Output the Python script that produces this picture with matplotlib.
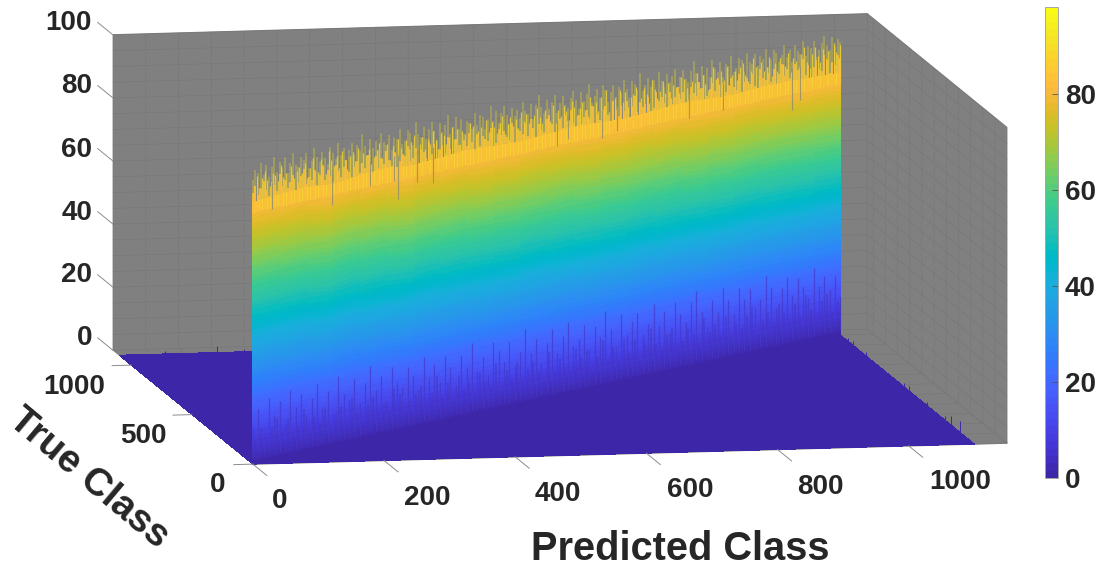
import numpy as np
import matplotlib
matplotlib.use("Agg")
import matplotlib.pyplot as plt
from matplotlib.colors import ListedColormap, Normalize
from matplotlib.cm import ScalarMappable
from mpl_toolkits.mplot3d.art3d import Line3DCollection

plt.rcParams['font.family'] = ['Liberation Sans', 'DejaVu Sans']

# parula, 64 steps
parula = ListedColormap([
    [0.2422, 0.1504, 0.6603], [0.2504, 0.1650, 0.7076], [0.2578, 0.1818, 0.7511], [0.2647, 0.1978, 0.7952],
    [0.2706, 0.2147, 0.8364], [0.2751, 0.2342, 0.8710], [0.2783, 0.2559, 0.8991], [0.2803, 0.2782, 0.9221],
    [0.2813, 0.3006, 0.9414], [0.2810, 0.3228, 0.9579], [0.2795, 0.3447, 0.9717], [0.2760, 0.3667, 0.9829],
    [0.2699, 0.3892, 0.9906], [0.2602, 0.4123, 0.9952], [0.2440, 0.4358, 0.9988], [0.2206, 0.4603, 0.9973],
    [0.1963, 0.4847, 0.9892], [0.1834, 0.5074, 0.9798], [0.1786, 0.5289, 0.9682], [0.1764, 0.5499, 0.9520],
    [0.1687, 0.5703, 0.9359], [0.1540, 0.5902, 0.9218], [0.1460, 0.6091, 0.9079], [0.1380, 0.6276, 0.8973],
    [0.1248, 0.6459, 0.8883], [0.1113, 0.6635, 0.8763], [0.0952, 0.6798, 0.8598], [0.0689, 0.6948, 0.8394],
    [0.0297, 0.7082, 0.8163], [0.0036, 0.7203, 0.7917], [0.0067, 0.7312, 0.7660], [0.0433, 0.7411, 0.7394],
    [0.0964, 0.7500, 0.7120], [0.1408, 0.7584, 0.6842], [0.1717, 0.7670, 0.6554], [0.1938, 0.7758, 0.6251],
    [0.2161, 0.7843, 0.5923], [0.2470, 0.7918, 0.5567], [0.2906, 0.7973, 0.5188], [0.3406, 0.8008, 0.4789],
    [0.3909, 0.8029, 0.4354], [0.4456, 0.8024, 0.3909], [0.5044, 0.7993, 0.3480], [0.5616, 0.7942, 0.3045],
    [0.6174, 0.7876, 0.2612], [0.6720, 0.7793, 0.2227], [0.7242, 0.7698, 0.1910], [0.7738, 0.7598, 0.1646],
    [0.8203, 0.7498, 0.1535], [0.8634, 0.7406, 0.1596], [0.9035, 0.7330, 0.1774], [0.9393, 0.7288, 0.2100],
    [0.9728, 0.7298, 0.2394], [0.9956, 0.7434, 0.2371], [0.9970, 0.7659, 0.2199], [0.9952, 0.7893, 0.2028],
    [0.9892, 0.8136, 0.1885], [0.9786, 0.8386, 0.1766], [0.9676, 0.8639, 0.1643], [0.9610, 0.8890, 0.1537],
    [0.9597, 0.9135, 0.1423], [0.9628, 0.9373, 0.1265], [0.9691, 0.9606, 0.1064], [0.9769, 0.9839, 0.0805],
])

# solid part of the diagonal, one value every 50 classes
wall_top = [83, 83.5, 84, 83, 84, 84.5, 83.5, 84, 84.5, 84, 83.5, 84, 84.5, 84, 83.5, 84, 84.5, 84, 83.5, 84, 84, 83.5, 83]

# orange-yellow tops just over the wall, one value every 5 classes
fill_tops = [
    86, 88, 85, 87, 89, 86, 84, 88, 87, 85, 90, 86, 88, 85, 87, 89, 84, 86, 88, 90, 85, 87, 86, 89, 84,
    87, 90, 85, 88, 86, 84, 89, 87, 85, 88, 90, 86, 84, 87, 89, 85, 88, 86, 90, 87, 84, 89, 85, 88, 86,
    90, 87, 85, 89, 84, 86, 88, 87, 90, 85, 86, 89, 84, 88, 87, 85, 90, 86, 89, 84, 87, 88, 85, 90, 86,
    84, 89, 87, 85, 88, 86, 90, 87, 84, 89, 85, 88, 87, 86, 90, 84, 85, 89, 87, 88, 86, 85, 90, 84, 88,
    87, 86, 89, 85, 90, 87, 84, 88, 86, 85, 89, 90, 87, 84, 86, 88, 85, 89, 87, 90, 86, 84, 88, 85, 87,
    89, 86, 90, 84, 87, 85, 88, 89, 86, 84, 90, 87, 85, 88, 86, 89, 84, 87, 90, 85, 88, 86, 87, 89, 84,
    85, 90, 87, 88, 86, 84, 89, 85, 87, 90, 86, 88, 84, 85, 89, 87, 86, 90, 88, 84, 85, 87, 89, 86, 90,
    84, 88, 85, 87, 89, 86, 85, 90, 84, 87, 88, 86, 89, 85, 84, 90, 87, 86, 88, 85, 89, 84, 87, 90, 86,
    88, 85, 84, 89, 87, 86, 90, 85, 88, 84, 87, 89, 86, 85, 90, 88, 84, 87, 86, 89, 85,
]
# bright yellow tops, one value every 5 classes
bright_tops = [
    88, 91, 87, 90, 92, 89, 87, 91, 90, 88, 93, 89, 90, 87, 92, 88, 90, 91, 89, 92, 87, 90, 93, 89, 88,
    92, 90, 87, 94, 91, 89, 92, 88, 93, 90, 87, 91, 92, 89, 93, 88, 91, 90, 92, 87, 89, 91, 93, 88, 90,
    92, 87, 91, 89, 93, 90, 88, 92, 89, 91, 93, 87, 90, 92, 88, 91, 89, 93, 90, 87, 92, 91, 88, 90, 93,
    89, 92, 87, 91, 90, 88, 93, 92, 89, 90, 91, 87, 93, 89, 92, 90, 88, 91, 93, 87, 90, 92, 89, 91, 88,
    93, 90, 92, 89, 87, 91, 93, 90, 88, 92, 90, 88, 93, 87, 91, 89, 92, 90, 87, 93, 91, 88, 90, 92, 89,
    87, 93, 90, 91, 88, 92, 89, 94, 87, 90, 91, 88, 93, 89, 92, 87, 90, 91, 93, 88, 89, 92, 90, 87, 94,
    91, 88, 90, 93, 89, 92, 87, 91, 90, 88, 93, 92, 89, 87, 91, 90, 93, 88, 92, 89, 87, 91, 94, 90, 88,
    92, 89, 93, 87, 90, 91, 88, 92, 93, 89, 87, 90, 94, 91, 88, 92, 89, 90, 93, 87, 91, 88, 92, 90, 89,
    93, 87, 91, 90, 88, 92, 94, 89, 87, 91, 93, 90, 88, 92, 89, 91, 87, 93, 90, 88, 92,
]
# highest reading per column, one value every 5 classes
spike_tops = [
    90, 93, 92, 95, 91, 94, 90, 93, 96, 91, 94, 92, 95, 90, 93, 96, 92, 91, 94, 93, 95, 90, 92, 96, 93,
    91, 94, 92, 90, 95, 93, 91, 96, 92, 94, 90, 93, 95, 91, 94, 92, 97, 93, 90, 95, 92, 94, 91, 96, 93,
    92, 95, 90, 94, 93, 96, 91, 92, 95, 94, 90, 97, 93, 92, 95, 91, 94, 96, 93, 90, 95, 92, 94, 97, 91,
    93, 96, 92, 95, 90, 94, 93, 91, 96, 92, 95, 94, 90, 93, 97, 92, 95, 91, 94, 96, 93, 90, 95, 92, 94,
    91, 96, 93, 92, 95, 90, 94, 97, 93, 91, 95, 92, 94, 96, 90, 93, 95, 92, 91, 94, 96, 93, 90, 95, 92,
    94, 97, 91, 93, 95, 92, 96, 94, 90, 93, 95, 91, 94, 92, 96, 93, 90, 95, 94, 92, 97, 91, 93, 95, 92,
    94, 90, 96, 93, 91, 95, 92, 94, 96, 90, 93, 95, 92, 91, 94, 97, 93, 90, 95, 92, 94, 91, 96, 93, 92,
    95, 90, 94, 93, 96, 91, 92, 95, 94, 90, 96, 93, 92, 95, 91, 94, 93, 96, 90, 92, 95, 94, 91, 93, 96,
    92, 94, 90, 95, 93, 92, 96, 91, 94, 93, 95, 90, 92, 94, 96, 93, 91, 95, 92, 94, 93,
]
# columns that fall short of the rest
dip_classes = [36, 148, 219, 264, 272, 307, 337, 569, 590, 654, 682, 816, 880, 1009, 1024]
dip_lows = [79.7, 76.8, 80, 80, 73.8, 78, 76.7, 79.8, 81, 79, 80.4, 79.5, 79.7, 74.8, 77.5]

# dark stripes at the foot of the diagonal, one value every 10 classes
stripe_tops = [
    12, 17, 9, 20, 14, 18, 11, 21, 15, 19, 12, 17, 21, 13, 18, 10, 22, 16, 14, 20, 12, 18,
    23, 15, 19, 11, 21, 16, 14, 20, 17, 12, 22, 15, 19, 13, 21, 17, 11, 20, 16, 23, 14, 18,
    12, 22, 19, 15, 21, 13, 17, 24, 16, 20, 12, 18, 22, 14, 19, 23, 15, 17, 21, 13, 20, 16,
    24, 18, 12, 22, 15, 19, 21, 14, 17, 23, 16, 20, 13, 22, 18, 15, 21, 24, 17, 12, 20, 16,
    23, 19, 14, 22, 18, 21, 15, 17, 24, 20, 13, 19, 22, 16, 21, 18, 14, 23, 17, 20, 15, 19, 12,
]
# shorter stripes between those
short_stripe_tops = [
    7, 11, 6, 10, 13, 8, 12, 6, 9, 14, 7, 11, 8, 13, 6, 10, 12, 7, 14, 9, 6, 11,
    13, 8, 10, 7, 14, 12, 6, 9, 11, 13, 7, 10, 15, 8, 12, 6, 14, 9, 11, 7, 13, 10,
    8, 15, 6, 12, 9, 14, 7, 11, 13, 10, 6, 15, 8, 12, 9, 7, 14, 11, 13, 6, 10, 15,
    8, 12, 7, 14, 9, 13, 6, 11, 15, 10, 8, 12, 14, 7, 9, 13, 11, 6, 15, 10, 12, 8,
    14, 7, 11, 9, 13, 15, 6, 10, 12, 8, 14, 11, 7, 13, 9, 15, 10, 6, 12, 14, 8, 11,
]

# small readings along the back edges of the floor
back_edge_classes = [70, 150, 190, 270, 330, 480, 600, 800, 860, 990]
back_edge_tops = [1.0, 2.0, 1.0, 0.8, 1.0, 0.8, 1.2, 1.2, 0.8, 1.5]
side_edge_classes = [120, 190, 240, 390, 540, 580, 890, 1000, 1040]
side_edge_tops = [3.5, 3.0, 1.2, 1.0, 1.5, 1.2, 1.2, 1.2, 1.0]

x_ticks = [0, 200, 400, 600, 800, 1000]
y_ticks = [0, 500, 1000]
z_ticks = [0, 20, 40, 60, 80, 100]
cbar_ticks = [0, 20, 40, 60, 80]

CLASS_MAX = 1100
AXIS_MAX = 1150
VALUE_MAX = 98.2
W, H = 1097, 571
TEXT = '#262626'
WALL = '#808080'
GRID = '#777777'
TICK = '#8c8c8c'

norm = Normalize(0, VALUE_MAX)


def px_text(fig, px, py, s, size=20, **kw):
    kw.setdefault('ha', 'center')
    kw.setdefault('va', 'center')
    fig.text(px / W, 1 - (py + 2) / H, s, fontsize=size, fontweight='bold', color=TEXT, **kw)


def vlines(ax, xs, ys, z0, z1, **kw):
    segs = [[(x, y, a), (x, y, b)] for x, y, a, b in zip(xs, ys, z0, z1)]
    ax.add_collection3d(Line3DCollection(segs, **kw))


fig = plt.figure(figsize=(W / 100, H / 100), dpi=100)
ax = fig.add_axes([46.5 / W, -181.5 / H, 1000 / W, 1000 / H], projection='3d', computed_zorder=False)
ax.set_proj_type('ortho')
ax.view_init(elev=8.66, azim=-100.48)
ax.set_box_aspect((767, 769, 319), zoom=1.099)
ax.set_xlim(0, AXIS_MAX)
ax.set_ylim(0, AXIS_MAX)
ax.set_zlim(0, 100)
ax.patch.set_alpha(0)

# walls and grid
ax.set_xticks(np.arange(0, AXIS_MAX + 1, 50))
ax.set_yticks(np.arange(0, AXIS_MAX + 1, 100))
ax.set_zticks(np.arange(0, 101, 5))
for axis in (ax.xaxis, ax.yaxis, ax.zaxis):
    axis.set_pane_color(WALL)
    axis.pane.set_edgecolor(WALL)
    axis.line.set_color((0, 0, 0, 0))
    axis.set_ticklabels([])
    axis._axinfo['grid'].update(color=GRID, linewidth=0.4)
    axis._axinfo['tick'].update(inward_factor=0, outward_factor=0)
ax.tick_params(colors=(0, 0, 0, 0))

# floor
fx, fy = np.meshgrid([0, CLASS_MAX], [0, CLASS_MAX])
ax.plot_surface(fx, fy, np.zeros_like(fx, dtype=float), color=parula(0), shade=False,
                linewidth=0, antialiased=False, zorder=2)
vlines(ax, back_edge_classes, [CLASS_MAX] * len(back_edge_classes), [0] * len(back_edge_classes),
       back_edge_tops, colors=[parula(0)], linewidths=0.7, zorder=2.5)
vlines(ax, [CLASS_MAX] * len(side_edge_classes), side_edge_classes, [0] * len(side_edge_classes),
       side_edge_tops, colors=[parula(0)], linewidths=0.7, zorder=2.5)

# solid diagonal wall, coloured by height
wall_classes = np.arange(0, CLASS_MAX + 1, 50)
spike_classes = np.arange(0, CLASS_MAX + 1, 5)
bright_classes = np.minimum(spike_classes + 2, CLASS_MAX)
stripe_classes = np.arange(0, CLASS_MAX + 1, 10)
short_classes = np.arange(5, CLASS_MAX, 10)
levels = np.linspace(0, 1, 129)
tops = np.array(wall_top, dtype=float)
WX = np.tile(wall_classes, (len(levels), 1)).astype(float)
WZ = np.outer(levels, tops)
mid = 0.5 * (WZ[:-1, :-1] + WZ[1:, :-1])
ax.plot_surface(WX, WX, WZ, facecolors=parula(norm(mid)), shade=False, rstride=1, cstride=1,
                edgecolor='none', linewidth=0, antialiased=False, zorder=3)

# spikes above the wall
vlines(ax, spike_classes, spike_classes, [80] * len(spike_classes), spike_tops,
       colors=[(0.78, 0.74, 0.25, 0.55)], linewidths=1.2, zorder=4)
vlines(ax, bright_classes, bright_classes, [80] * len(spike_classes), bright_tops,
       colors=[(0.97, 0.84, 0.18, 0.8)], linewidths=0.9, zorder=5)
vlines(ax, spike_classes, spike_classes, [80] * len(spike_classes), fill_tops,
       colors=[(0.99, 0.75, 0.22, 1.0)], linewidths=1.2, zorder=5.5)
vlines(ax, dip_classes, dip_classes, dip_lows, [88] * len(dip_classes),
       colors=[(0.58, 0.56, 0.42, 0.85)], linewidths=0.8, zorder=6)

# dark stripes low on the wall
vlines(ax, stripe_classes, stripe_classes, [2] * len(stripe_classes), stripe_tops,
       colors=[(0.27, 0.22, 0.78, 0.7)], linewidths=0.9, zorder=4)
vlines(ax, short_classes, short_classes, [2] * len(short_classes), short_stripe_tops,
       colors=[(0.26, 0.20, 0.75, 0.5)], linewidths=1.2, zorder=4)

# tick marks
for t in x_ticks:
    ax.plot([t, t], [0, -115], [0, 0], color=TICK, lw=0.7, zorder=7)
for t in y_ticks:
    ax.plot([0, -29], [t, t], [0, 0], color=TICK, lw=0.7, zorder=7)
for t in z_ticks:
    ax.plot([0, 0], [AXIS_MAX, AXIS_MAX + 125], [t, t], color=TICK, lw=0.7, zorder=7)

# tick labels
for t, (px, py) in zip(x_ticks, [(280, 499), (427, 496), (558, 492), (690, 488), (820, 485), (960, 480)]):
    px_text(fig, px, py, str(t))
for t, (px, py) in zip(y_ticks, [(218, 483), (143, 434), (74, 385)]):
    px_text(fig, px, py, str(t))
for t, py in zip(z_ticks, [336, 273, 211, 148, 84, 21]):
    px_text(fig, 92, py, str(t), ha='right')

px_text(fig, 680, 547, 'Predicted Class', size=28.6)
px_text(fig, 89, 476, 'True Class', size=28, rotation=-40, rotation_mode='anchor')

# colorbar
cax = fig.add_axes([1045 / W, 93 / H, 13 / W, 471 / H])
cb = fig.colorbar(ScalarMappable(norm=norm, cmap=parula), cax=cax)
cb.set_ticks(cbar_ticks)
cb.outline.set_edgecolor('#a6a6a6')
cb.outline.set_linewidth(0.7)
cax.tick_params(length=4, width=0.6, direction='in', color='#555555', pad=5)
for lab in cax.get_yticklabels():
    lab.set_fontsize(20)
    lab.set_fontweight('bold')
    lab.set_color(TEXT)

fig.savefig('out.png', dpi=100)
